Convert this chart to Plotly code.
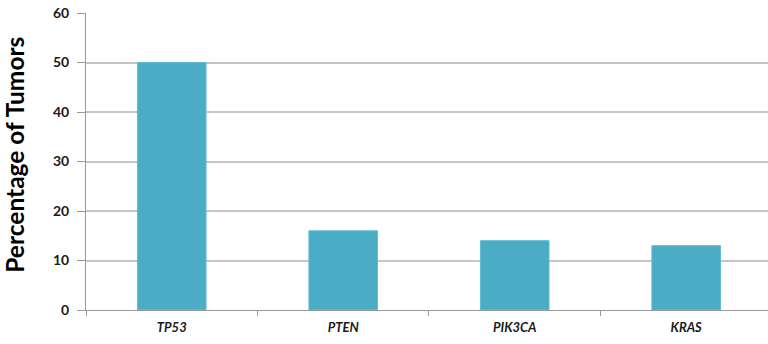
import plotly.graph_objects as go

genes = ["TP53", "PTEN", "PIK3CA", "KRAS"]
pct_tumors = [50, 16, 14, 13]
y_ticks = [0, 10, 20, 30, 40, 50, 60]
y_title = "Percentage of Tumors"

BAR = "#4BACC6"
GRID = "#C6C6C6"
AXIS = "#9A9A9A"
TEXT = "#1A1A1A"
FONT = "Lato, Open Sans, sans-serif"

fig = go.Figure(
    go.Bar(
        x=genes,
        y=pct_tumors,
        marker=dict(color=BAR, line=dict(color="#62BBD2", width=1)),
        width=0.4,
    )
)

fig.update_layout(
    width=768,
    height=344,
    margin=dict(l=86, r=0, t=13, b=34),
    plot_bgcolor="white",
    paper_bgcolor="white",
    showlegend=False,
    font=dict(family=FONT, color=TEXT),
)

# rotated y-axis title placed as a paper-anchored annotation
fig.add_annotation(
    text=y_title,
    xref="paper",
    yref="paper",
    x=-0.104,
    y=0.523,
    xanchor="center",
    yanchor="middle",
    textangle=-90,
    showarrow=False,
    font=dict(family=FONT, size=24.5, color="#000000", weight="bold"),
)

fig.update_xaxes(
    type="category",
    range=[-0.5, 3.477],
    tickson="boundaries",
    ticks="outside",
    ticklen=5,
    tickcolor=AXIS,
    showline=True,
    linecolor=AXIS,
    linewidth=1,
    showgrid=False,
    ticklabelstandoff=5,
    tickfont=dict(family=FONT, size=13, color=TEXT, weight="bold", style="italic"),
)

fig.update_yaxes(
    range=[0, 60],
    tickvals=y_ticks,
    ticks="outside",
    ticklen=8,
    tickcolor=AXIS,
    showline=True,
    linecolor=AXIS,
    linewidth=1,
    showgrid=True,
    gridcolor=GRID,
    gridwidth=2,
    zeroline=False,
    ticklabelstandoff=5,
    tickfont=dict(family=FONT, size=14, color=TEXT, weight="bold"),
)

fig.write_html("out.html")
